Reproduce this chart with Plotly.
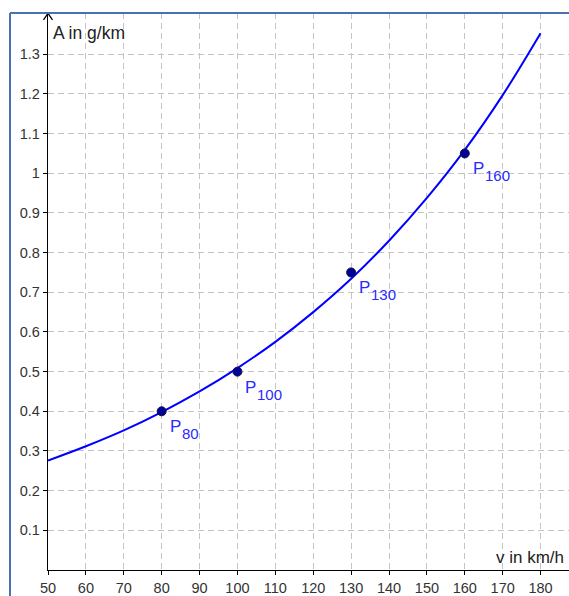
import plotly.graph_objects as go

# Points
point_v = [80, 100, 130, 160]
point_A = [0.40, 0.50, 0.75, 1.05]
point_names = ["P", "P", "P", "P"]
point_subs = ["80", "100", "130", "160"]

# Curve samples
curve_v = [50, 60, 70, 80, 90, 100, 110, 120, 130, 140, 150, 160, 170, 180]
curve_A = [0.276, 0.312, 0.352, 0.398, 0.450, 0.509, 0.575, 0.650, 0.734, 0.830, 0.938, 1.059, 1.197, 1.353]

x_ticks = list(range(50, 190, 10))
y_ticks = [round(0.1 * i, 1) for i in range(1, 14)]

X_MIN, X_MAX = 50, 187.5
Y_MIN, Y_MAX = 0, 1.404

FONT = "Liberation Sans, Arial, sans-serif"

fig = go.Figure()
fig.add_trace(go.Scatter(x=curve_v, y=curve_A, mode="lines", line=dict(color="#0000ff", width=2, shape="spline"),
                         hoverinfo="skip", showlegend=False))
fig.add_trace(go.Scatter(x=point_v, y=point_A, mode="markers",
                         marker=dict(size=9, color="#00009a", line=dict(color="#111133", width=1)),
                         showlegend=False))

for v, a, nm, sb in zip(point_v, point_A, point_names, point_subs):
    fig.add_annotation(x=v, y=a, text=nm, showarrow=False, xanchor="left", yanchor="top",
                       xshift=6, yshift=-4, font=dict(family=FONT, size=17, color="#2a2aff"))
    fig.add_annotation(x=v, y=a, text=sb, showarrow=False, xanchor="left", yanchor="top",
                       xshift=18, yshift=-12, font=dict(family=FONT, size=15, color="#2a2aff"))

fig.add_annotation(x=0, y=1, xref="paper", yref="paper", text="A in g/km", showarrow=False,
                   xanchor="left", yanchor="top", xshift=3, yshift=-8,
                   font=dict(family=FONT, size=17.5, color="#222222"))
fig.add_annotation(x=1, y=0, xref="paper", yref="paper", text="v in km/h", showarrow=False,
                   xanchor="right", yanchor="bottom", xshift=-3, yshift=1,
                   font=dict(family=FONT, size=17, color="#222222"))

# y-axis arrow head (paper coords, not clipped)
px = 1 / 521.0
py = 1 / 561.0
fig.add_shape(type="path", xref="paper", yref="paper",
              path=f"M {-4.5*px},{1-7*py} L 0,{1-0.5*py} L {4.5*px},{1-7*py}",
              line=dict(color="#000000", width=1.3))

# blue frame (left and top)
lx = (10 - 48) / 521.0
fig.add_shape(type="line", xref="paper", yref="paper", x0=lx, x1=lx, y0=1.0, y1=-0.05,
              line=dict(color="#4a72b0", width=2))
fig.add_shape(type="line", xref="paper", yref="paper", x0=lx, x1=1.02, y0=1.0, y1=1.0,
              line=dict(color="#4a72b0", width=2))

axis_font = dict(family=FONT, size=14.5, color="#333333")
fig.update_xaxes(range=[X_MIN, X_MAX], tickvals=x_ticks, ticktext=[str(t) for t in x_ticks],
                 showgrid=True, gridcolor="#c4c4c4", griddash="6px,4px", gridwidth=1,
                 showline=True, linecolor="#000000", linewidth=1.3, zeroline=False,
                 ticks="outside", ticklen=4, tickcolor="#000000", tickfont=axis_font)
fig.update_yaxes(range=[Y_MIN, Y_MAX], tickvals=y_ticks, ticktext=[("%g" % t) for t in y_ticks],
                 showgrid=True, gridcolor="#c4c4c4", griddash="6px,4px", gridwidth=1,
                 showline=True, linecolor="#000000", linewidth=1.3, zeroline=False,
                 ticks="outside", ticklen=4, tickcolor="#000000", tickfont=axis_font)

fig.update_layout(width=569, height=596, margin=dict(l=48, r=0, t=13, b=22, pad=0),
                  plot_bgcolor="#ffffff", paper_bgcolor="#ffffff", showlegend=False)

fig.write_html("out.html", config={"displayModeBar": False},
               post_script="document.body.style.margin='0';document.body.style.overflow='hidden';")
